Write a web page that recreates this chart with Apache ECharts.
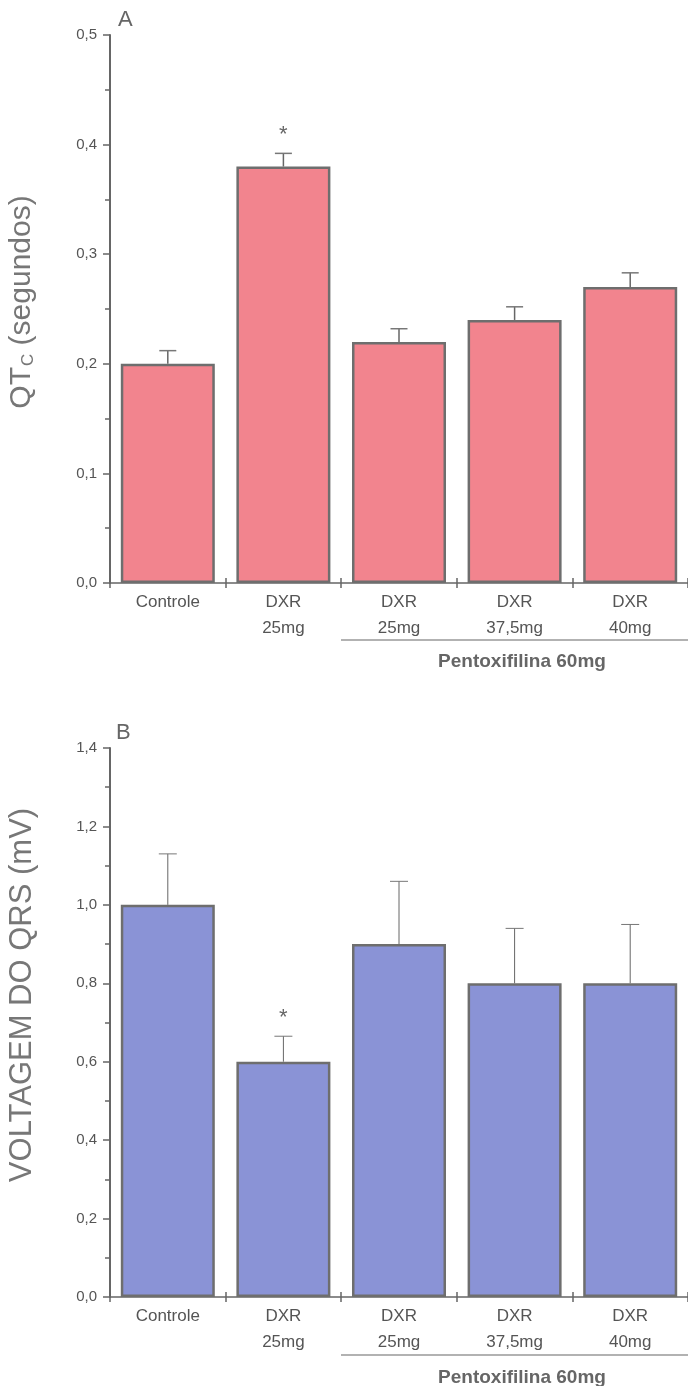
<!DOCTYPE html>
<html><head><meta charset="utf-8">
<script src="https://cdn.jsdelivr.net/npm/echarts@6/dist/echarts.min.js"></script>
<style>html,body{margin:0;padding:0;background:#fff}#c{width:688px;height:1386px}</style>
</head><body><div id="c"></div>
<script>
const categories = ['Controle', 'DXR\n25mg', 'DXR\n25mg', 'DXR\n37,5mg', 'DXR\n40mg'];
const qtcValues = [0.20, 0.38, 0.22, 0.24, 0.27];
const qtcErrors = [0.012, 0.012, 0.012, 0.012, 0.013];
const qtcStars = [false, true, false, false, false];
const qrsValues = [1.00, 0.60, 0.90, 0.80, 0.80];
const qrsErrors = [0.13, 0.065, 0.16, 0.14, 0.15];
const qrsStars = [false, true, false, false, false];
const groupLabel = 'Pentoxifilina 60mg';

const chart = echarts.init(document.getElementById('c'));
const FONT = 'Liberation Sans, Arial, sans-serif';
const AX = '#666';

function xAxes(gi) {
  return [
    { type: 'category', gridIndex: gi, data: categories, boundaryGap: true,
      axisLine: { lineStyle: { color: AX, width: 1.5 } },
      axisTick: { show: true, length: 5, lineStyle: { color: AX, width: 1.5 } },
      axisLabel: { color: '#555', fontFamily: FONT, fontSize: 17, lineHeight: 26, margin: 6, interval: 0 } },
    { type: 'category', gridIndex: gi, data: categories, boundaryGap: true, position: 'bottom',
      axisLine: { show: false },
      axisTick: { show: true, inside: true, length: 5, lineStyle: { color: AX, width: 1.5 } },
      axisLabel: { show: false } }
  ];
}
function yAxis(gi, max, interval) {
  return { type: 'value', gridIndex: gi, min: 0, max: max, interval: interval,
    axisLine: { show: true, lineStyle: { color: AX, width: 2 } },
    axisTick: { show: true, length: 7, lineStyle: { color: AX, width: 1.5 } },
    minorTick: { show: true, splitNumber: 2, length: 5, lineStyle: { color: AX, width: 1.5 } },
    splitLine: { show: false },
    axisLabel: { color: '#555', fontFamily: FONT, fontSize: 15, margin: 13,
      formatter: v => v.toFixed(1).replace('.', ',') } };
}
function errSeries(xi, yi, vals, errs, stars, capW, lw) {
  return { type: 'custom', xAxisIndex: xi, yAxisIndex: yi, z: 5,
    data: vals.map((v, i) => [i, v, errs[i], stars[i] ? 1 : 0]),
    renderItem: (params, api) => {
      const i = api.value(0), v = api.value(1), e = api.value(2), s = api.value(3);
      const p0 = api.coord([i, v]); const p1 = api.coord([i, v + e]);
      const ch = [
        { type: 'line', shape: { x1: p0[0], y1: p0[1], x2: p1[0], y2: p1[1] }, style: { stroke: '#666', lineWidth: lw } },
        { type: 'line', shape: { x1: p1[0] - capW / 2, y1: p1[1], x2: p1[0] + capW / 2, y2: p1[1] }, style: { stroke: '#777', lineWidth: lw } }
      ];
      if (s) ch.push({ type: 'text', style: { text: '*', x: p1[0], y: p1[1] - 18, align: 'center', verticalAlign: 'middle', fill: '#666', font: '22px ' + FONT } });
      return { type: 'group', children: ch };
    } };
}

chart.setOption({
  animation: false,
  grid: [
    { left: 110, top: 35, width: 580, height: 548 },
    { left: 110, top: 748, width: 580, height: 549 }
  ],
  xAxis: [...xAxes(0), ...xAxes(1)],
  yAxis: [yAxis(0, 0.5, 0.1), yAxis(1, 1.4, 0.2)],
  series: [
    { type: 'bar', xAxisIndex: 0, yAxisIndex: 0, data: qtcValues, barWidth: 94,
      itemStyle: { color: '#f2848e', borderColor: '#6e6e6e', borderWidth: 2.5 } },
    errSeries(0, 0, qtcValues, qtcErrors, qtcStars, 17, 1.5),
    { type: 'bar', xAxisIndex: 2, yAxisIndex: 1, data: qrsValues, barWidth: 94,
      itemStyle: { color: '#8a93d6', borderColor: '#6e6e6e', borderWidth: 2.5 } },
    errSeries(2, 1, qrsValues, qrsErrors, qrsStars, 18, 1)
  ],
  graphic: [
    { type: 'text', left: 118, top: 9, style: { text: 'A', fill: '#666', font: '22px ' + FONT } },
    { type: 'text', left: 116, top: 722, style: { text: 'B', fill: '#666', font: '22px ' + FONT } },
    { type: 'text', x: 22, y: 302, rotation: Math.PI / 2,
      style: { text: '{a|QT}{b|C}{a| (segundos)}', align: 'center', verticalAlign: 'middle',
        rich: { a: { fontSize: 30, fill: '#777', fontFamily: FONT }, b: { fontSize: 17, fill: '#777', fontFamily: FONT, padding: [12, 0, 0, 1] } } } },
    { type: 'text', x: 22, y: 995, rotation: Math.PI / 2,
      style: { text: 'VOLTAGEM DO QRS (mV)', align: 'center', verticalAlign: 'middle', fill: '#777', font: '31px ' + FONT } },
    { type: 'line', shape: { x1: 341, y1: 640, x2: 688, y2: 640 }, style: { stroke: '#666', lineWidth: 1.2 } },
    { type: 'text', x: 522, y: 662, style: { text: groupLabel, align: 'center', verticalAlign: 'middle', fill: '#666', font: 'bold 19px ' + FONT } },
    { type: 'line', shape: { x1: 341, y1: 1355, x2: 688, y2: 1355 }, style: { stroke: '#666', lineWidth: 1.2 } },
    { type: 'text', x: 522, y: 1378, style: { text: groupLabel, align: 'center', verticalAlign: 'middle', fill: '#666', font: 'bold 19px ' + FONT } }
  ]
});
</script></body></html>
